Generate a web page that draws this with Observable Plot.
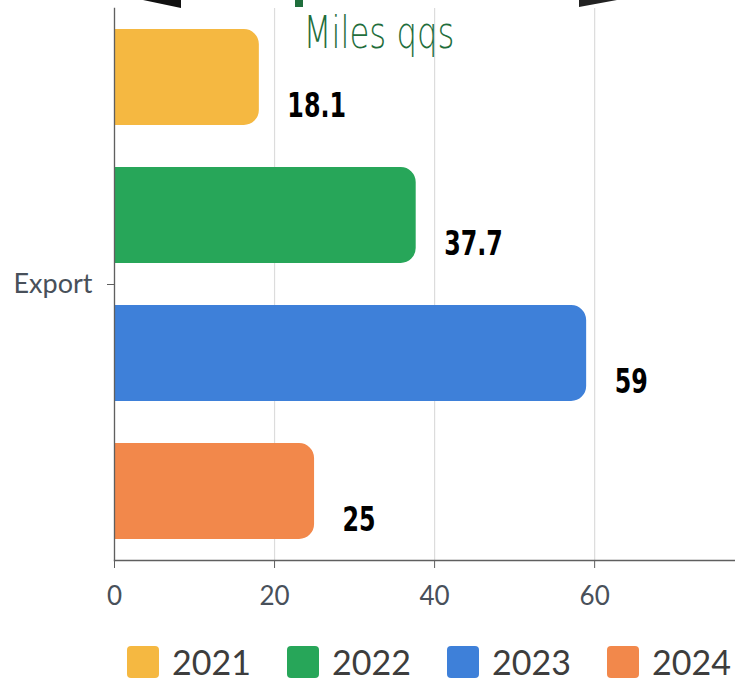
<!DOCTYPE html>
<html>
<head>
<meta charset="utf-8">
<script src="https://cdn.jsdelivr.net/npm/d3@7"></script>
<script src="https://cdn.jsdelivr.net/npm/@observablehq/plot@0.6"></script>
<style>
  body { margin: 0; background: #fff; }
  #wrap { position: relative; width: 735px; height: 681px; overflow: hidden; background: #fff; }
  #chart { position: absolute; left: 0; top: 0; }
  #deco { position: absolute; left: 0; top: 0; pointer-events: none; }
  #legend { position: absolute; left: 127px; top: 645px; display: flex; font-family: Lato, sans-serif; }
  .item { display: flex; align-items: center; width: 160px; height: 34px; }
  .sw { width: 32px; height: 32px; border-radius: 4px; margin-right: 13px; flex: none; }
  .lab { font-size: 34px; color: #3d3d3d; line-height: 34px; }
</style>
</head>
<body>
<div id="wrap">
  <div id="chart"></div>
  <svg id="deco" width="735" height="20">
    <polygon points="143,0 181,0 181,8" fill="#111"></polygon>
    <rect x="295" y="0" width="8" height="7" fill="#1f6e3c"></rect>
    <polygon points="579,0 617,0 579,7" fill="#222"></polygon>
  </svg>
  <div id="legend"></div>
</div>
<script>
const category = ["Export"];
const years = ["2021", "2022", "2023", "2024"];
const values = [18.1, 37.7, 59, 25];
const colors = ["#F5B841", "#27A659", "#3E80D9", "#F2884B"];
const xTicks = [0, 20, 40, 60];
const xMax = 77.6;
const title = "Miles qqs";

const data = years.map((y, i) => ({ cat: category[0], year: y, value: values[i] }));
const narrow = "'DejaVu Sans', sans-serif";

const chart = Plot.plot({
  width: 735,
  height: 620,
  marginTop: 8,
  marginLeft: 114,
  marginRight: 0,
  marginBottom: 60,
  style: { fontFamily: "Lato, sans-serif", background: "white", overflow: "visible" },
  x: { domain: [0, xMax], label: null },
  y: { domain: years, paddingInner: 0.304, paddingOuter: 0.152, axis: null },
  fy: { domain: category, padding: 0, label: null, axis: null },
  color: { domain: years, range: colors },
  marks: [
    Plot.gridX(xTicks, { stroke: "#dcdcdc", strokeOpacity: 1, strokeWidth: 1.2 }),
    Plot.barX(data, { x: "value", y: "year", fy: "cat", fill: "year", rx2: 15 }),
    Plot.frame({ anchor: "left", stroke: "#5f5f5f", strokeWidth: 1.3 }),
    Plot.frame({ anchor: "bottom", stroke: "#5f5f5f", strokeWidth: 1.3 }),
    Plot.axisX(xTicks, { tickSize: 8, tickPadding: 18, fontSize: 26, fill: "#48505a", stroke: "#5f5f5f", label: null }),
    Plot.axisFy({ anchor: "left", tickSize: 7, tickPadding: 15, fontSize: 27, fill: "#48505a", stroke: "#5f5f5f", label: null }),
    Plot.text(data, {
      x: "value", y: "year", fy: "cat", text: d => String(d.value),
      dx: 28, dy: 29, textAnchor: "start", fontSize: 34, fontWeight: "bold",
      fill: "#000", fontFamily: narrow, className: "valuelabel"
    }),
    Plot.text([title], {
      frameAnchor: "top", dx: -46, dy: 8, fontSize: 45, fill: "#1f6e3c",
      fontFamily: narrow, fontWeight: 300, className: "titletext"
    })
  ]
});
document.getElementById("chart").appendChild(chart);

// horizontally condense the narrow texts (no condensed face installed)
function condense(sel, k) {
  chart.querySelectorAll(sel).forEach(t => {
    const tr = t.getAttribute("transform") || "";
    t.setAttribute("transform", (tr + ` scale(${k},1)`).trim());
  });
}
condense(".valuelabel text", 0.70);
condense(".titletext text", 0.72);

const legend = document.getElementById("legend");
years.forEach((y, i) => {
  const item = document.createElement("div");
  item.className = "item";
  const sw = document.createElement("div");
  sw.className = "sw";
  sw.style.background = colors[i];
  const lab = document.createElement("span");
  lab.className = "lab";
  lab.textContent = y;
  item.appendChild(sw);
  item.appendChild(lab);
  legend.appendChild(item);
});
</script>
</body>
</html>
